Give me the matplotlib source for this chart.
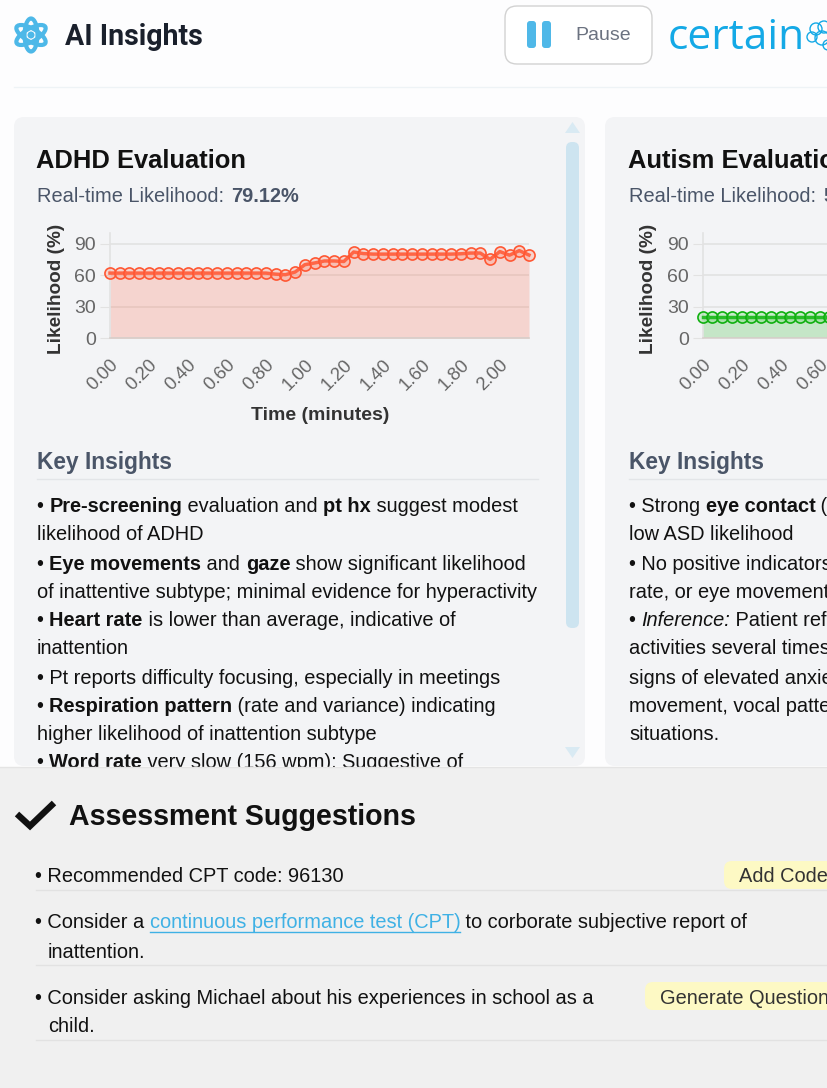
import matplotlib
matplotlib.use("Agg")
import matplotlib.pyplot as plt
from matplotlib.patches import Ellipse, FancyBboxPatch, Polygon, Rectangle

plt.rcParams["font.family"] = ["Liberation Sans", "DejaVu Sans"]

W, H = 828, 1088

# chart data
adhd_time = [i * 0.05 for i in range(44)]
adhd_values = [62, 62, 62, 62, 62, 62, 62, 62, 62, 62, 62, 62, 62, 62, 62, 62, 62, 61, 60.5, 63,
               70, 71.6, 73.5, 73.5, 73, 82, 80.5, 80, 80, 80, 80, 80, 80, 80, 80, 80, 80.3, 81,
               81, 75, 82.4, 79, 83.3, 79.12]
autism_time = [i * 0.05 for i in range(14)]
autism_values = [20, 20, 20, 20, 20, 20, 20, 20, 20, 20, 20, 20, 20, 20]
y_ticks = [0, 30, 60, 90]
x_ticks = [0.0, 0.2, 0.4, 0.6, 0.8, 1.0, 1.2, 1.4, 1.6, 1.8, 2.0]
x_labels = ["0.00", "0.20", "0.40", "0.60", "0.80", "1.00", "1.20", "1.40", "1.60", "1.80", "2.00"]

# text content, each line is a list of (text, style)
adhd_lines = [
    [("• ", "n"), ("Pre-screening", "b"), (" evaluation and ", "n"), ("pt hx", "b"), (" suggest modest", "n")],
    [("likelihood of ADHD", "n")],
    [("• ", "n"), ("Eye movements", "b"), (" and ", "n"), ("gaze", "b"), (" show significant likelihood", "n")],
    [("of inattentive subtype; minimal evidence for hyperactivity", "n")],
    [("• ", "n"), ("Heart rate", "b"), (" is lower than average, indicative of", "n")],
    [("inattention", "n")],
    [("• Pt reports difficulty focusing, especially in meetings", "n")],
    [("• ", "n"), ("Respiration pattern", "b"), (" (rate and variance) indicating", "n")],
    [("higher likelihood of inattention subtype", "n")],
    [("• ", "n"), ("Word rate", "b"), (" very slow (156 wpm); Suggestive of", "n")],
]
autism_lines = [
    [("• Strong ", "n"), ("eye contact", "b"), (" (", "n")],
    [("low ASD likelihood", "n")],
    [("• No positive indicators", "n")],
    [("rate, or eye movement", "n")],
    [("• ", "n"), ("Inference:", "i"), (" Patient refe", "n")],
    [("activities several times", "n")],
    [("signs of elevated anxie", "n")],
    [("movement, vocal patte", "n")],
    [("situations.", "n")],
]
line_ys = [507, 535, 564, 592, 621, 649, 678, 706, 734, 763]

fig = plt.figure(figsize=(W / 100, H / 100), dpi=100, facecolor="#fdfdfe")
bg = fig.add_axes([0, 0, 1, 1], zorder=0)
bg.set_xlim(0, W)
bg.set_ylim(H, 0)
bg.axis("off")


def px(size):
    return size * 0.72


def seg_width(text, size, weight, style):
    t = bg.text(0, 0, text + "|", fontsize=px(size), fontweight=weight, fontstyle=style)
    bar = bg.text(0, 0, "|", fontsize=px(size), fontweight=weight, fontstyle=style)
    r = fig.canvas.get_renderer()
    w = t.get_window_extent(r).width - bar.get_window_extent(r).width
    t.remove()
    bar.remove()
    return w


def rich_line(x, y, segs, size=20, color="#111111", zorder=3):
    for text, kind in segs:
        weight = "bold" if kind == "b" else "normal"
        style = "italic" if kind == "i" else "normal"
        c = "#3fb1e5" if kind == "l" else color
        bg.text(x, y, text, fontsize=px(size), fontweight=weight, fontstyle=style,
                color=c, va="center", zorder=zorder)
        w = seg_width(text, size, weight, style)
        if kind == "l":
            bg.plot([x, x + w], [y + 8.5, y + 8.5], color=c, lw=1, zorder=zorder)
        x += w
    return x


def rbox(x0, y0, x1, y1, r, face, edge="none", lw=1, zorder=1):
    bg.add_patch(FancyBboxPatch((x0 + r, y0 + r), x1 - x0 - 2 * r, y1 - y0 - 2 * r,
                                boxstyle=f"round,pad={r}", fc=face, ec=edge, lw=lw, zorder=zorder))


def draw_chart(x0, times, values, line_color, fill_color, marker_face):
    # axes rect runs off the canvas for the right hand card
    left, right, top, bottom = x0, x0 + 419, 233, 338.5
    ax = fig.add_axes([left / W, 1 - bottom / H, (right - left) / W, (bottom - top) / H], zorder=2)
    ax.patch.set_alpha(0)
    ax.fill_between(times, values, 0, color=fill_color, lw=0, zorder=2)
    ax.plot(times, values, color=line_color, lw=2.5, marker="o", ms=8, mew=1.2,
            mfc=marker_face, mec=line_color, clip_on=False, zorder=4)
    ax.set_xlim(0, 2.15)
    ax.set_ylim(0, 100)
    ax.set_yticks(y_ticks)
    ax.set_xticks(x_ticks, labels=x_labels)
    ax.tick_params(axis="y", length=7, color="#e2e2e2", labelsize=px(19.5), labelcolor="#666666", pad=3)
    ax.tick_params(axis="x", length=0, labelsize=px(18.5), labelcolor="#666666", pad=13)
    for lab in ax.get_xticklabels():
        lab.set_rotation(45)
        lab.set_ha("right")
        lab.set_va("top")
        lab.set_rotation_mode("anchor")
    ax.set_axisbelow(True)
    ax.grid(axis="y", color="#e2e2e2", lw=1.2)
    for side in ["top", "right"]:
        ax.spines[side].set_visible(False)
    ax.spines["left"].set_color("#e2e2e2")
    ax.spines["bottom"].set_color("#d8d0cc")
    ax.spines["left"].set_linewidth(1.2)
    ax.spines["bottom"].set_linewidth(1.2)
    return ax


# header
bg.text(65, 37, "AI Insights", fontsize=px(28.5), fontweight="bold", color="#1a202c", va="center", family="Roboto")
for ang in [0, 60, 120]:
    bg.add_patch(Ellipse((31, 35), 13, 33, angle=ang, fc="none", ec="#4db8e8", lw=3))
bg.add_patch(Ellipse((31, 35), 7, 7, fc="#4db8e8", ec="none"))
rbox(505, 6, 652, 64, 12, "#ffffff", edge="#d2d2d2", lw=1)
rbox(527, 21, 536, 48, 3, "#4fb8e8")
rbox(542, 21, 551, 48, 3, "#4fb8e8")
bg.text(575, 36, "Pause", fontsize=px(19.5), color="#6b7280", va="center")
bg.text(668, 38, "certain", fontsize=px(42.5), color="#14a9e6", va="center", family="Open Sans")
for cx, cy, r in [(816, 29, 6), (824, 27, 6), (812, 37, 5), (822, 38, 7), (828, 45, 5)]:
    bg.add_patch(Ellipse((cx, cy), r * 2, r * 2, fc="none", ec="#14a9e6", lw=1))
bg.plot([14, W], [87, 87], color="#eef3f6", lw=1)

# cards
rbox(14, 117, 585, 766, 10, "#f3f4f6")
rbox(605, 117, 850, 766, 10, "#f3f4f6")

# scrollbar of first card
rbox(566, 142, 579, 628, 6, "#cde4f0", zorder=2)
bg.add_patch(Polygon([[565, 133], [580, 133], [572.5, 122]], fc="#d9eaf3", ec="none", zorder=2))
bg.add_patch(Polygon([[565, 747], [580, 747], [572.5, 758]], fc="#d9eaf3", ec="none", zorder=2))

for x, name, val in [(37, "ADHD Evaluation", "79.12%"), (629, "Autism Evaluation", "5")]:
    bg.text(x - 1, 161, name, fontsize=px(25.5), fontweight="bold", color="#111111", va="center")
    bg.text(x, 196, "Real-time Likelihood:", fontsize=px(20), color="#4a5568", va="center")
    bg.text(x + 194, 196, val, fontsize=px(20), fontweight="bold", color="#4a5568", va="center")
    bg.text(x, 463, "Key Insights", fontsize=px(22.8), fontweight="bold", color="#4a5568", va="center")
    bg.plot([x, x + 501], [478.5, 478.5], color="#e3e5e8", lw=1, zorder=2)
    bg.text(x + 20, 289, "Likelihood (%)", fontsize=px(19), fontweight="bold", color="#333333",
            rotation=90, ha="center", va="center", zorder=3)

bg.text(320, 416, "Time (minutes)", fontsize=px(19.5), fontweight="bold", color="#333333",
        ha="center", va="center", zorder=3)

draw_chart(110, adhd_time, adhd_values, "#ff5733", (1, 0.34, 0.2, 0.2), (1, 0.55, 0.45, 0.3))
draw_chart(702.7, autism_time, autism_values, "#10b010", (0.06, 0.69, 0.06, 0.2), (0.4, 0.85, 0.4, 0.3))

for y, segs in zip(line_ys, adhd_lines):
    rich_line(37, y, segs)
for y, segs in zip(line_ys, autism_lines):
    rich_line(629, y, segs)

# bottom panel
bg.add_patch(Rectangle((0, 767), W, H - 767, fc="#f0f0f0", ec="none", zorder=5))
bg.plot([0, W], [767, 767], color="#e4e4e4", lw=1, zorder=5)
bg.plot([17, 30, 54], [814, 826, 803], color="#111111", lw=4.6, solid_capstyle="butt",
        solid_joinstyle="miter", zorder=6)
bg.text(69, 817, "Assessment Suggestions", fontsize=px(28.5), fontweight="bold", color="#111111",
        va="center", zorder=6)

rich_line(35, 877, [("• Recommended CPT code: 96130", "n")], zorder=6)
rich_line(35, 923, [("• Consider a ", "n"), ("continuous performance test (CPT)", "l"),
                    (" to corborate subjective report of", "n")], zorder=6)
rich_line(48, 952, [("inattention.", "n")], zorder=6)
rich_line(35, 998, [("• Consider asking Michael about his experiences in school as a", "n")], zorder=6)
rich_line(48, 1027, [("child.", "n")], zorder=6)
for y in [889.5, 964.5, 1040]:
    bg.plot([36, W], [y, y], color="#e2e2e2", lw=1, zorder=6)

rbox(724, 861, 860, 889, 8, "#fdf9c4", zorder=6)
bg.text(739, 877, "Add Code", fontsize=px(20), color="#333333", va="center", zorder=7)
rbox(645, 982, 860, 1010, 8, "#fdf9c4", zorder=6)
bg.text(660, 998, "Generate Questions", fontsize=px(20), color="#333333", va="center", zorder=7)

fig.savefig("out.png", dpi=100, facecolor=fig.get_facecolor())
